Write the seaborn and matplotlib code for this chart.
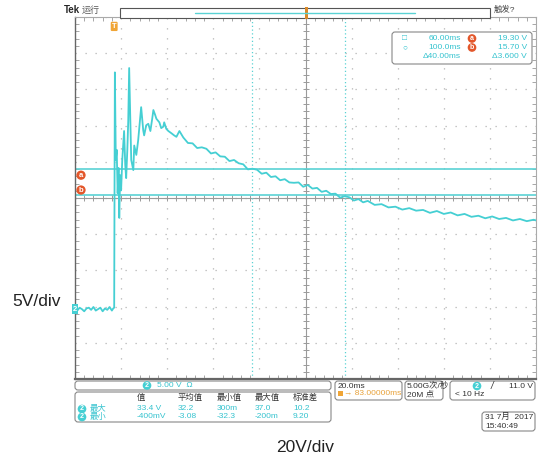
import matplotlib
matplotlib.use("Agg")
import matplotlib.pyplot as plt
import matplotlib.transforms as mtransforms
from matplotlib.patches import FancyBboxPatch, Rectangle
import numpy as np
import pandas as pd
import seaborn as sns

# channel 2 waveform, time after trigger (ms) and level (V)
time_ms = [-17, -16, -15, -14, -13, -12, -11, -10, -9, -8, -7, -6, -5, -4, -3, -2, -1, -0.4,
           0.0, 0.3, 0.7, 1.1, 1.5, 1.9, 2.2, 2.6, 3.0, 3.5, 4.3, 4.8, 5.2, 5.7, 6.1, 6.5,
           7.0, 7.4, 8.3, 8.7, 9.6, 10.4, 11.7, 12.6, 13.0, 13.9, 14.8, 15.7, 16.5, 17.0,
           17.8, 18.3, 19.6, 20.4, 21.3, 21.7, 22.6, 23.5, 24.8, 26.0, 27.0, 28.3,
           30, 32, 34, 36, 38, 40, 42, 44, 46, 48, 50, 52, 54, 56, 58, 60, 62, 64, 66, 68,
           70, 72, 74, 76, 78, 80, 82, 84, 86, 88, 90, 92, 94, 96, 98, 100, 102, 104, 106,
           108, 110, 113, 116, 119, 122, 125, 128, 131, 134, 137, 140, 143, 146, 149, 152,
           155, 158, 161, 164, 167, 170, 173, 176, 179, 182, 183]
volts = [0.1, -0.2, 0.2, 0.0, -0.3, 0.1, 0.2, -0.1, 0.3, -0.2, 0.0, 0.2, -0.3, 0.1, -0.1, 0.3, -0.2, 0.1,
         0.2, 32.7, 20.6, 22.0, 16.0, 19.5, 12.6, 18.5, 16.4, 20.6, 24.6, 19.9, 18.1, 22.0, 26.0, 33.3,
         26.1, 20.6, 19.2, 22.6, 21.3, 23.3, 27.9, 24.7, 24.0, 25.4, 25.6, 24.6, 26.3, 27.5,
         26.8, 26.3, 25.8, 25.0, 25.2, 25.8, 24.9, 24.6, 24.3, 24.0, 23.8, 24.6,
         23.7, 22.95, 22.9, 22.25, 22.35, 22.15, 21.5, 21.65, 21.1, 21.05, 20.45, 20.6, 20.15, 20.0,
         19.3, 19.4, 19.25, 18.7, 18.85, 18.25, 18.35, 17.8, 17.95, 17.5, 17.45, 17.5, 16.9, 17.15,
         16.65, 16.75, 16.2, 16.35, 15.9, 15.95, 15.4, 15.6, 15.45, 15.0, 15.2, 14.75, 14.95, 14.4,
         14.5, 14.05, 14.15, 13.75, 13.95, 13.6, 13.7, 13.3, 13.55, 13.15, 13.35, 12.95, 13.15, 12.75,
         12.9, 12.55, 12.8, 12.45, 12.6, 12.25, 12.45, 12.15, 12.35, 12.25]

cursor_t = [60.0, 100.0]
cursor_v = [19.30, 15.70]
cursor_readout = [["60.00ms", "19.30 V"], ["100.0ms", "15.70 V"], ["\u039440.00ms", "\u03943.600 V"]]

volts_per_div = 5.0
ms_per_div = 20.0
h_delay_ms = 83.0
v_center = 15.35

meas_headers = ["值", "平均值", "最小值", "最大值", "标准差"]
meas_rows = ["最大", "最小"]
meas_max = ["33.4 V", "32.2", "300m", "37.0", "10.2"]
meas_min = ["-400mV", "-3.08", "-32.3", "-200m", "9.20"]

TRACE = "#45cfd3"
CURS = "#5ad2d4"
TXT = "#35c3cf"
ORANGE = "#e3572b"
GRID = "#b4b4b4"

sns.set_style("white")
plt.rcParams["font.family"] = ["Liberation Sans", "Noto Sans CJK SC", "DejaVu Sans"]

fig = plt.figure(figsize=(5.4, 4.62), dpi=100)
ax = fig.add_axes([75 / 540, 1 - 379 / 462, 461 / 540, 362 / 462])

x0, x1 = h_delay_ms - 5 * ms_per_div, h_delay_ms + 5 * ms_per_div
y0, y1 = v_center - 5 * volts_per_div, v_center + 5 * volts_per_div
ax.set_xlim(x0, x1)
ax.set_ylim(y0, y1)

xdiv = x0 + ms_per_div * np.arange(11)
ydiv = y0 + volts_per_div * np.arange(11)
ax.set_xticks(xdiv)
ax.set_yticks(ydiv)
ax.set_xticks(x0 + ms_per_div * 0.2 * np.arange(51), minor=True)
ax.set_yticks(y0 + volts_per_div * 0.2 * np.arange(51), minor=True)
ax.tick_params(which="major", length=0, labelbottom=False, labelleft=False)
ax.tick_params(which="minor", direction="in", length=3, width=0.6, color="#999999",
               top=True, right=True, bottom=True, left=True)
ax.grid(True, which="major", color=GRID, lw=0.9, ls=(0, (1, 7)))
for s in ["left", "bottom"]:
    ax.spines[s].set_color("#666666")
ax.spines["bottom"].set_linewidth(1.6)
ax.spines["left"].set_linewidth(1.0)
for s in ["top", "right"]:
    ax.spines[s].set_color("#aaaaaa")
    ax.spines[s].set_linewidth(0.8)

# centre cross with ticks
ax.axhline(v_center, color="#9a9a9a", lw=0.8, zorder=1)
ax.axvline(h_delay_ms, color="#9a9a9a", lw=0.8, zorder=1)
mx = x0 + ms_per_div * 0.2 * np.arange(51)
my = y0 + volts_per_div * 0.2 * np.arange(51)
ax.plot(mx, np.full_like(mx, v_center), ls="none", marker="|", ms=5, mew=0.7, color="#9a9a9a", zorder=1)
ax.plot(np.full_like(my, h_delay_ms), my, ls="none", marker="_", ms=5, mew=0.7, color="#9a9a9a", zorder=1)

# cursors
for t in cursor_t:
    ax.axvline(t, color=CURS, lw=0.9, ls=(0, (1, 2)), zorder=2)
for v in cursor_v:
    ax.axhline(v, color=CURS, lw=1.2, zorder=2)

df = pd.DataFrame({"t": time_ms, "v": volts})
sns.lineplot(data=df, x="t", y="v", ax=ax, color=TRACE, lw=1.3, estimator=None, sort=False, zorder=3)
ax.set_xlabel("")
ax.set_ylabel("")

bl = mtransforms.blended_transform_factory(ax.transAxes, ax.transData)
bt = mtransforms.blended_transform_factory(ax.transData, ax.transAxes)
ax.text(0.013, cursor_v[0] - 0.8, "a", transform=bl, ha="center", va="center", fontsize=5.5,
        color="white", fontweight="bold", bbox=dict(boxstyle="circle,pad=0.15", fc=ORANGE, ec="none"), zorder=5)
ax.text(0.013, cursor_v[1] + 0.75, "b", transform=bl, ha="center", va="center", fontsize=5.5,
        color="white", fontweight="bold", bbox=dict(boxstyle="circle,pad=0.15", fc=ORANGE, ec="none"), zorder=5)
ax.text(0.0, 0.0, "2", transform=bl, ha="center", va="center", fontsize=5.5, color="white",
        fontweight="bold", bbox=dict(boxstyle="square,pad=0.15", fc=TRACE, ec="none"), zorder=5)
ax.text(0.0, 0.974, "T", transform=bt, ha="center", va="center", fontsize=5.5, color="white",
        fontweight="bold", bbox=dict(boxstyle="round,pad=0.15", fc="#f0a536", ec="none"), zorder=5)

# overlay in pixel coordinates for the scope chrome
ov = fig.add_axes([0, 0, 1, 1], zorder=10)
ov.set_xlim(0, 540)
ov.set_ylim(462, 0)
ov.axis("off")
ov.patch.set_alpha(0)


def box(xa, ya, xb, yb, fc="white"):
    ov.add_patch(FancyBboxPatch((xa, ya), xb - xa, yb - ya, boxstyle="round,pad=0,rounding_size=3",
                                fc=fc, ec="#888888", lw=0.8))


def chip(x, y, s, fc):
    ov.text(x, y, s, ha="center", va="center", fontsize=5, color="white", fontweight="bold",
            bbox=dict(boxstyle="circle,pad=0.12", fc=fc, ec="none"))


# header
ov.text(64, 10, "Tek", fontsize=7, fontweight="bold", va="center")
ov.text(82, 10, "运行", fontsize=6.5, color="#555555", va="center")
ov.add_patch(Rectangle((120, 8), 370, 10, fc="white", ec="#555555", lw=0.8))
ov.plot([195, 415], [12.5, 12.5], color=CURS, lw=1.0)
ov.add_patch(Rectangle((304.5, 7), 3, 12, fc="#d98a2a", ec="none"))
ov.text(494, 10, "触发?", fontsize=6, color="#444444", va="center")

# cursor readout
box(392, 32, 532, 64)
ov.text(405, 38.5, "\u25a1", fontsize=6, color=TXT, ha="center", va="center")
ov.text(405, 47.5, "\u25cb", fontsize=6, color=TXT, ha="center", va="center")
for i, (a, b) in enumerate(cursor_readout):
    yy = 38.5 + 9 * i
    ov.text(461, yy, a, fontsize=6, color=TXT, ha="right", va="center")
    ov.text(527, yy, b, fontsize=6, color=TXT, ha="right", va="center")
chip(472, 38.5, "a", ORANGE)
chip(472, 47.5, "b", ORANGE)

# channel + measurement boxes
box(75, 381, 331, 390)
chip(147, 385.5, "2", TRACE)
ov.text(157, 385.5, "5.00 V  \u03a9", fontsize=6, color=TXT, va="center")
box(75, 392, 331, 422)
col_x = [137, 178, 217, 255, 293]
for cx, h, a, b in zip(col_x, meas_headers, meas_max, meas_min):
    ov.text(cx, 398, h, fontsize=6, color="#333333", va="center")
    ov.text(cx, 409, a, fontsize=6, color=TXT, va="center")
    ov.text(cx, 417, b, fontsize=6, color=TXT, va="center")
for yy, lab in zip([409, 417], meas_rows):
    chip(82, yy, "2", TRACE)
    ov.text(90, yy, lab, fontsize=6, color=TXT, va="center")

box(335, 381, 402, 400)
ov.text(338, 386, "20.0ms", fontsize=6, color="#333333", va="center")
ov.add_patch(Rectangle((337.5, 391), 5, 5, fc="#f0a536", ec="none"))
ov.text(344, 393.5, "\u2192 83.00000ms", fontsize=6, color="#e8a23a", va="center")
box(405, 381, 443, 400)
ov.text(407, 386, "5.00G次/秒", fontsize=6, color="#333333", va="center")
ov.text(407, 394.5, "20M 点", fontsize=6, color="#333333", va="center")
box(450, 381, 535, 400)
chip(477, 386, "2", TRACE)
ov.text(491, 386, "/", fontsize=7, color="#333333", va="center", style="italic")
ov.text(533, 386, "11.0 V", fontsize=6, color="#333333", va="center", ha="right")
ov.text(455, 394.5, "< 10 Hz", fontsize=6, color="#333333", va="center")
box(482, 412, 535, 431)
ov.text(485, 417, "31 7月  2017", fontsize=6, color="#333333", va="center")
ov.text(485, 426, "15:40:49", fontsize=6, color="#333333", va="center")

# annotations
ov.text(12, 302, "5V/div", fontsize=12.5, color="#222222", va="center")
ov.text(305, 447, "20V/div", fontsize=12.5, color="#222222", va="center", ha="center")

fig.savefig("out.png", dpi=100, facecolor="white")
